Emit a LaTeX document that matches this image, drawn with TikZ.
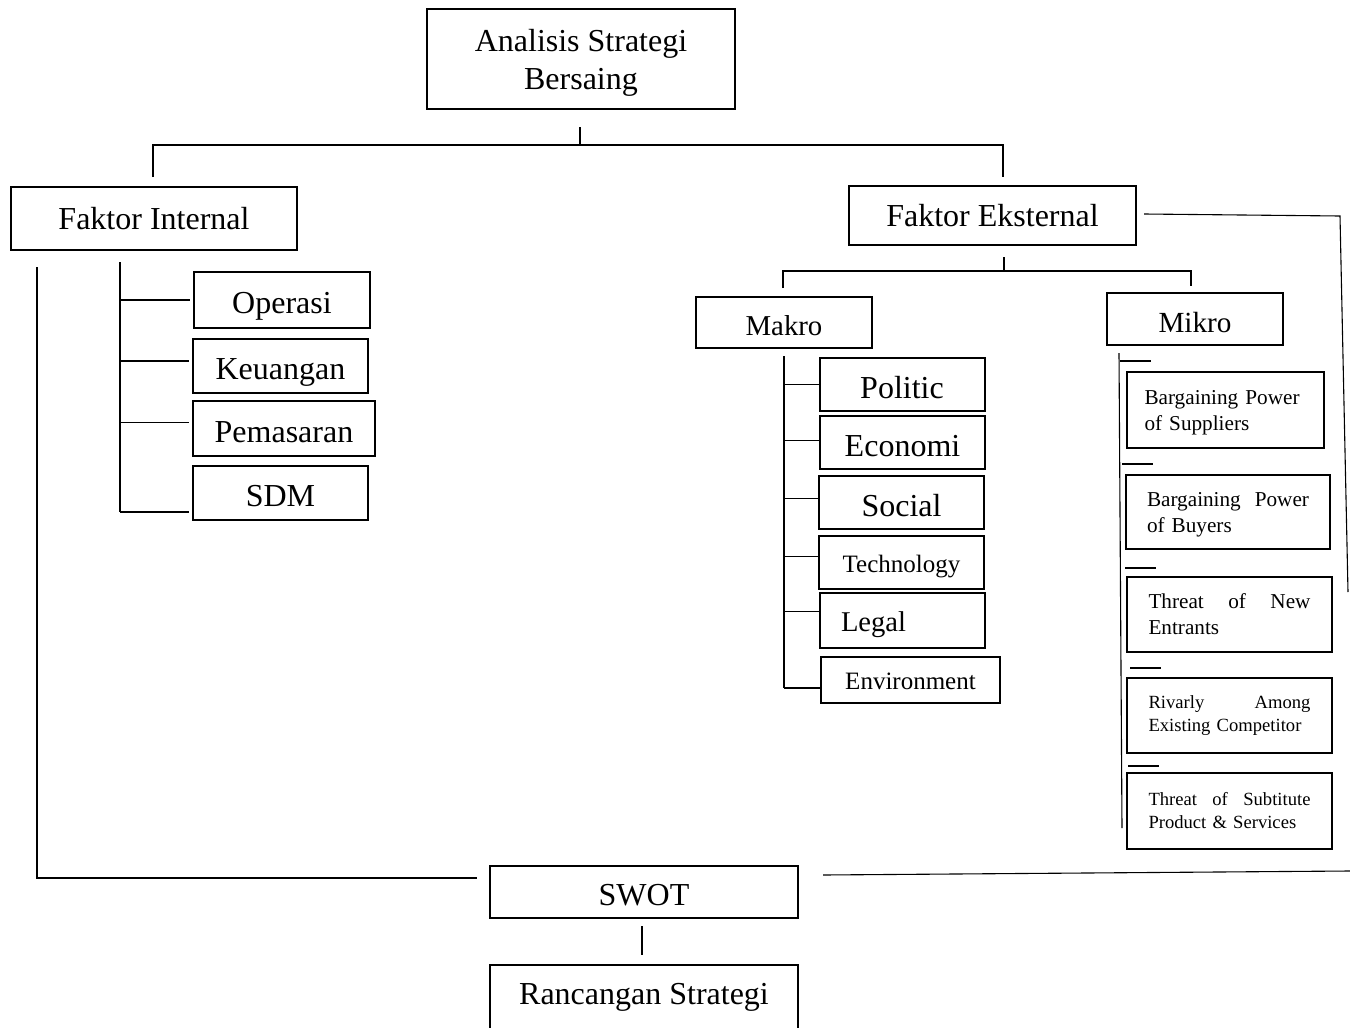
\documentclass[tikz,border=0pt]{standalone}
\usepackage{fontspec}
\setmainfont{Liberation Serif}
\usetikzlibrary{calc}

\begin{document}
\begin{tikzpicture}[x=0.5pt, y=-0.5pt,
    every node/.style={font=\fontsize{16}{19}\selectfont},
    mainbox/.style={draw, line width=1pt, inner sep=0pt},
    labelbox/.style={mainbox, text height=16pt, text depth=2.5pt},
    smallbox/.style={mainbox, text height=12pt, text depth=2.5pt, font=\fontsize{12.5}{15}\selectfont},
    forcebox/.style={mainbox, text width=81pt, align=left, font=\fontsize{10.6}{13}\selectfont},
    tightforce/.style={forcebox, font=\fontsize{9.3}{11.5}\selectfont},
    link/.style={line width=0.55pt}
]
\useasboundingbox (0,0) rectangle (1350,1028);
\clip (0,0) rectangle (1350,1028);

% main levels
\node[mainbox, minimum width=154pt, minimum height=50pt, align=center] (top) at (581,59)
  {\rule{0pt}{15pt}Analisis Strategi\\Bersaing};
\node[mainbox, minimum width=143pt, minimum height=31.5pt] (fi) at (154,218.5) {Faktor Internal};
\node[mainbox, minimum width=143.5pt, minimum height=29.5pt] (fe) at (992.5,215.5) {Faktor Eksternal};
\node[mainbox, minimum width=88pt, minimum height=25.5pt, text height=15.5pt, text depth=2.5pt,
  font=\fontsize{14.4}{17}\selectfont] (makro) at (784,322.5) {Makro};
\node[mainbox, minimum width=88pt, minimum height=26pt, text height=15.5pt, text depth=2.5pt,
  font=\fontsize{14.6}{17}\selectfont] (mikro) at (1195,319) {Mikro};
\node[labelbox, minimum width=154pt, minimum height=26pt] (swot) at (644,892) {SWOT};
\node[mainbox, minimum width=154pt, minimum height=32.5pt] (rs) at (644,997.5) {Rancangan Strategi};

% internal factors
\foreach \n/\cx/\cy/\w/\h/\t in {%
  op/282/300/88/28/Operasi, keu/280.5/366/87.5/27/Keuangan,%
  pem/284/428.5/91/27.5/Pemasaran, sdm/280.5/493/87.5/27/SDM}
  \node[labelbox, minimum width=\w pt, minimum height=\h pt] (\n) at (\cx,\cy) {\t};

% macro environment
\foreach \n/\cx/\cy/\t in {%
  pol/902/384.5/Politic, eco/902.5/442.5/Economi, soc/901.5/502.5/Social}
  \node[labelbox, minimum width=82.5pt, minimum height=26.5pt] (\n) at (\cx,\cy) {\t};
\node[smallbox, minimum width=82.5pt, minimum height=26.5pt] (tech) at (901.5,562.5) {Technology};
\node[mainbox, minimum width=82.5pt, minimum height=27.5pt, text width=61.5pt, align=left,
  text height=13.5pt, text depth=2.5pt,
  font=\fontsize{14.3}{17}\selectfont] (leg) at (902.5,620.5) {Legal};
\node[smallbox, minimum width=89.5pt, minimum height=23pt] (env) at (910.5,680) {Environment};

% micro environment
\node[forcebox, minimum width=98.5pt, minimum height=38pt] (bps) at (1225.5,410)
  {\rule{0pt}{9.5pt}Bargaining Power\\of Suppliers};
\node[forcebox, minimum width=102pt, minimum height=37pt] (bpb) at (1228,512)
  {\rule{0pt}{10pt}\makebox[\hsize][s]{Bargaining\hfill Power}\\of Buyers};
\node[forcebox, minimum width=102.5pt, minimum height=37.5pt] (tne) at (1229.5,614.5)
  {\makebox[\hsize][s]{Threat\hfill of\hfill New}\\Entrants};
\node[tightforce, minimum width=102.5pt, minimum height=37.5pt] (raec) at (1229.5,715.5)
  {\makebox[\hsize][s]{Rivarly\hfill Among}\\Existing Competitor\\[-1pt]};
\node[tightforce, minimum width=102.5pt, minimum height=38pt] (tsps) at (1229.5,811)
  {\makebox[\hsize][s]{Threat\hfill of\hfill Subtitute}\\Product \& Services\\[0pt]};

% top split
\draw[link] ($(top.south)+(-1,17)$) -- ++(0,18) coordinate (tophub);
\draw[link] ($(fi.north)+(-1,-9)$) |- (tophub) -| ($(fe.north)+(10.5,-8)$);

% eksternal split
\draw[link] ($(fe.south)+(11.5,11)$) -- ++(0,14) coordinate (exthub);
\draw[link] ($(makro.north)+(-1,-8)$) |- (exthub) -| ($(mikro.north)+(-4,-6)$);

% internal list
\coordinate (ispine) at ($(fi.south)+(-34,11)$);
\foreach \n/\dy in {op/0, keu/-5, pem/-6, sdm/19} {
  \coordinate (\n-l) at ($(\n.west)+(-3,\dy)$);
  \draw[link] (ispine |- \n-l) -- (\n-l);
}
\draw[link] (ispine) -- (ispine |- sdm-l);

% makro list
\coordinate (kspine) at ($(makro.south)+(0,7)$);
\foreach \n/\dy in {pol/0, eco/-2, soc/-4, tech/-6, leg/-9, env/8} {
  \coordinate (\n-l) at ($(\n.west)+(0,\dy)$);
  \draw[link] (kspine |- \n-l) -- (\n-l);
}
\draw[link] (kspine) -- (kspine |- env-l);

% mikro list
\draw[link] ($(mikro.south)+(-76,7)$) -- ($(tsps.west)+(-4,17)$);
\foreach \n/\dx/\dy in {bps/-6/-10, bpb/-3/-10, tne/-1/-8, raec/4/-9, tsps/2/-6}
  \draw[link] ($(\n.north west)+(\dx,\dy)$) -- ++(31,0);

% feedback to SWOT
\coordinate (rcorner) at (1340,216);
\coordinate (rend) at (1348,592);
\coordinate (bend) at (1350,871);
\draw[link] ($(fe.east)+(7,-1.5)$) -- (rcorner) -- (rend);
\draw[link] ($(swot.east)+(24,-17)$) -- (bend);
\draw[link] ($(fi.south west)+(27,16)$) |- ($(swot.west)+(-12,-14)$);
\draw[link] ($(swot.south)+(-2,7)$) -- ($(rs.north)+(-2,-9)$);

\end{tikzpicture}
\end{document}
